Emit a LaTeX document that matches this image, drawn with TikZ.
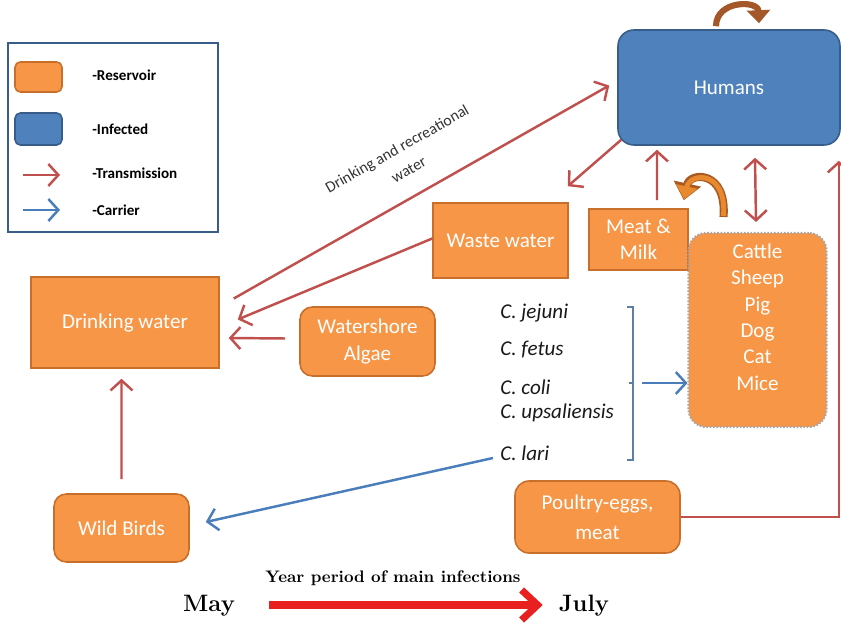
\documentclass[tikz,border=0pt]{standalone}
\usepackage{fontspec}
\usetikzlibrary{arrows.meta}
\newfontfamily\calib{Carlito}
\definecolor{resv}{HTML}{F79646}
\definecolor{resvline}{HTML}{C96F2C}
\definecolor{infc}{HTML}{4F81BD}
\definecolor{infcline}{HTML}{385D8A}
\definecolor{trans}{HTML}{C0504D}
\definecolor{carr}{HTML}{4A7EBB}
\definecolor{curl}{HTML}{E8892F}
\definecolor{curlline}{HTML}{A85A22}
\definecolor{loopc}{HTML}{A4582A}
\definecolor{period}{HTML}{E82020}

\begin{document}
\begin{tikzpicture}[x=0.02cm,y=-0.02cm,
  reservoir/.style={draw=resvline, line width=0.9pt, fill=resv, text=white,
    font=\calib\fontsize{12}{15}\selectfont, align=center, inner sep=0pt},
  infected/.style={draw=infcline, line width=0.9pt, fill=infc, text=white,
    font=\calib\fontsize{12}{15}\selectfont, align=center, inner sep=0pt},
  legtext/.style={anchor=west, font=\calib\bfseries\fontsize{8.6}{9}\selectfont, inner sep=0pt},
  species/.style={anchor=west, font=\calib\itshape\fontsize{12}{13}\selectfont, text=black!90, inner sep=0pt},
  tr/.style={draw=trans, line width=1.4pt, -{Straight Barb[length=2mm,width=4.4mm]}},
  ca/.style={draw=carr, line width=1.4pt, -{Straight Barb[length=2mm,width=4.4mm]}},
  curlarrow/.style={draw=curlline, line width=4.6pt, -{Triangle[length=3.4mm,width=5.4mm]}},
  curlfill/.style={draw=curl, line width=2.8pt, -{Triangle[length=2.6mm,width=4.2mm]}},
]
\useasboundingbox (0,0) rectangle (841,624);

% legend
\draw[infcline, line width=1.2pt] (8,43) rectangle (218,232);
\node[reservoir, rounded corners=3pt, minimum width=0.94cm, minimum height=0.6cm] (sres) at (38.5,77) {};
\node[infected, rounded corners=3pt, minimum width=0.94cm, minimum height=0.64cm] (sinf) at (38.5,129) {};
\node[legtext] (lres) at (92,75) {-Reservoir};
\node[legtext] (linf) at (92,129) {-Infected};
\node[legtext] (ltrans) at (92,173) {-Transmission};
\node[legtext] (lcar) at (92,210) {-Carrier};
\draw[tr] ([shift={(-69,2)}]ltrans.west) -- ([shift={(-32,2)}]ltrans.west);
\draw[ca] ([shift={(-69,0)}]lcar.west) -- ([shift={(-32,0)}]lcar.west);

% boxes
\node[infected, rounded corners=9pt, minimum width=4.44cm, minimum height=2.3cm] (H) at (729,87.5) {Humans};
\node[reservoir, minimum width=2.7cm, minimum height=1.5cm] (WW) at (500.5,240.5) {Waste water};
\node[reservoir, minimum width=1.98cm, minimum height=1.22cm] (MM) at (638.5,239.5) {Meat \&\\Milk};
\node[reservoir, draw=gray!70, densely dotted, line width=1.2pt, rounded corners=10pt,
  minimum width=2.76cm, minimum height=3.88cm] (CS) at (757.5,330) {};
\node[text=white, font=\calib\fontsize{12}{15}\selectfont, align=center] (CStext) at (757.5,317) {Cattle\\Sheep\\Pig\\Dog\\Cat\\Mice};
\node[reservoir, minimum width=3.76cm, minimum height=1.82cm] (DW) at (125,322.5) {Drinking water};
\node[reservoir, rounded corners=7pt, minimum width=2.7cm, minimum height=1.38cm] (WA) at (367.5,341.5) {Watershore\\Algae};
\node[reservoir, rounded corners=7pt, minimum width=2.7cm, minimum height=1.36cm] (WB) at (121.5,528) {Wild Birds};
\node[reservoir, rounded corners=8pt, minimum width=3.3cm, minimum height=1.44cm,
  font=\calib\fontsize{12}{17}\selectfont] (PE) at (597.5,517) {Poultry-eggs,\\meat};

% species
\node[species] (cj) at (500,313) {C. jejuni};
\node[species] (cf) at (500,350) {C. fetus};
\node[species] (cc) at (500,387) {C. coli};
\node[species] (cu) at (500,413) {C. upsaliensis};
\node[species] (cl) at (500,453) {C. lari};
\draw[carr!60!gray, line width=0.6pt] (627,307) -| (633,460) -- (627,460);
\draw[carr!60!gray, line width=0.6pt] (633,383) -- (629,383);
\coordinate (brk) at (642,383);

% transmission
\draw[tr] ([shift={(14,-24)}]DW.east) -- ([shift={(-8,-2)}]H.west)
  node[midway, sloped, above=11pt, inner sep=0pt, text=black!80, align=center,
    font=\calib\fontsize{9}{13.5}\selectfont] {Drinking and recreational\\water};
\draw[tr] ([shift={(0,-2)}]WW.west) -- ([shift={(18,-3)}]DW.east);
\draw[tr] ([shift={(4,-6)}]H.south west) -- ([shift={(-1,-16)}]WW.north east);
\draw[tr] ([shift={(-14,-3)}]WA.west) -- ([shift={(9,15.5)}]DW.east);
\draw[tr] ([shift={(0,-14)}]WB.north) -- ([shift={(-3.5,10)}]DW.south);
\draw[tr] ([shift={(18.5,-8)}]MM.north) -- ([shift={(-72,4)}]H.south);
\draw[tr, {Straight Barb[length=2mm,width=4.4mm]}-{Straight Barb[length=2mm,width=4.4mm]}]
  ([shift={(26,12)}]H.south) -- ([shift={(-1.5,-10)}]CS.north);
\draw[tr] (PE.east) -| ([shift={(-2,15)}]H.south east);

% carriers
\draw[ca] (brk) -- (brk -| CS.west);
\draw[ca] ([shift={(-7,5)}]cl.west) -- ([shift={(16,-6)}]WB.east);

% curls
\draw[curlarrow] ([shift={(-34,-15)}]CS.north) .. controls (727,170) and (690,172) .. ([shift={(-5,-8)}]MM.north east);
\draw[curlfill, shorten >=0.6pt] ([shift={(-34,-16)}]CS.north) .. controls (727,170) and (690,172) .. ([shift={(-5,-8)}]MM.north east);
\draw[draw=loopc, line width=3.5pt, -{Triangle[length=2.6mm,width=4.6mm]}]
  ([shift={(-13,-3)}]H.north) .. controls (716,0) and (758,0) .. ([shift={(30,-6)}]H.north);

% period
\node[font=\bfseries\fontsize{9.5}{11}\selectfont] (yr) at (393,578) {Year period of main infections};
\node[font=\bfseries\fontsize{13.5}{15}\selectfont] (may) at (209,606) {May};
\node[font=\bfseries\fontsize{13.5}{15}\selectfont] (jul) at (584,606) {July};
\draw[period, line width=4pt, -{Straight Barb[length=3.2mm,width=6mm]}] ([shift={(28,-1)}]may.east) -- ([shift={(-10,-1)}]jul.west);
\end{tikzpicture}
\end{document}
